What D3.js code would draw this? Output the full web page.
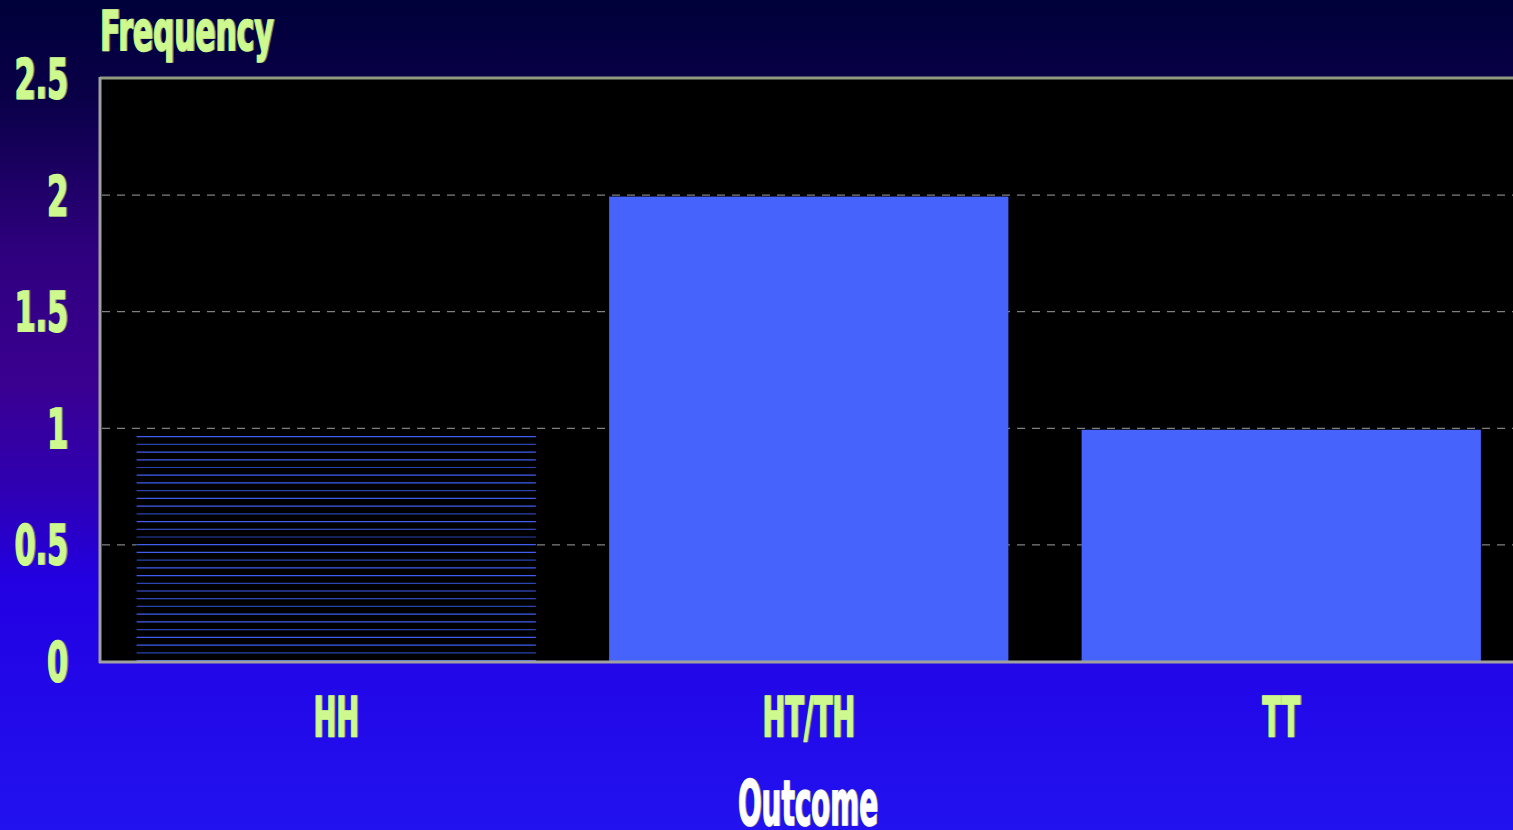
<!DOCTYPE html>
<html>
<head>
<meta charset="utf-8">
<script src="https://cdn.jsdelivr.net/npm/d3@7"></script>
<style>
  html, body { margin: 0; padding: 0; overflow: hidden; }
  svg { display: block; }
</style>
</head>
<body>
<div class="canva"></div>
<script>
// data
const outcomes = ["HH", "HT/TH", "TT"];
const frequency = [1, 2, 1];
const yTicks = [0, 0.5, 1, 1.5, 2, 2.5];
const yLabel = "Frequency";
const xLabel = "Outcome";

const width = 1513, height = 830;
const plot = { left: 100, top: 79, right: 1517.5, bottom: 662 };
const font = "'DejaVu Sans Condensed', 'DejaVu Sans', sans-serif";
const green = "#cdf98e";

const svg = d3.select(".canva").append("svg")
  .attr("width", width)
  .attr("height", height);

const defs = svg.append("defs");
const grad = defs.append("linearGradient")
  .attr("id", "bg").attr("x1", 0).attr("y1", 0).attr("x2", 0).attr("y2", 1);
[[0, "#00003a"], [0.12, "#0a0048"], [0.3, "#2e007e"], [0.46, "#3a0090"],
 [0.6, "#2e00b6"], [0.7, "#2200e2"], [1, "#2212f0"]]
  .forEach(s => grad.append("stop").attr("offset", s[0]).attr("stop-color", s[1]));

svg.append("rect").attr("width", width).attr("height", height).attr("fill", "url(#bg)");

const x = d3.scaleBand()
  .domain(outcomes)
  .range([plot.left, plot.right])
  .paddingInner(0.155)
  .paddingOuter(0.0775);

const y = d3.scaleLinear()
  .domain([0, 2.5])
  .range([plot.bottom, plot.top]);

// plot background
svg.append("rect")
  .attr("x", plot.left).attr("y", plot.top)
  .attr("width", width - plot.left).attr("height", plot.bottom - plot.top)
  .attr("fill", "#000");

// grid
svg.append("g").selectAll("line")
  .data(yTicks.filter(d => d > 0 && d < 2.5))
  .join("line")
  .attr("x1", plot.left + 2).attr("x2", width)
  .attr("y1", d => y(d) - 0.5).attr("y2", d => y(d) - 0.5)
  .attr("stroke", "#a0a0a0")
  .attr("stroke-width", 1)
  .attr("stroke-dasharray", "8,7");

// bars
const bars = svg.append("g").selectAll("g")
  .data(outcomes.map((o, i) => ({ o, v: frequency[i], i })))
  .join("g");

bars.append("rect")
  .attr("x", d => x(d.o))
  .attr("y", d => y(d.v) + 1)
  .attr("width", x.bandwidth())
  .attr("height", d => y(0) - y(d.v) - 1)
  .attr("fill", d => d.i === 0 ? "#000" : "#4664fc");

// hatched first bar: horizontal lines
const hh = bars.filter(d => d.i === 0);
hh.each(function (d) {
  const top = y(d.v) + 7;
  const n = Math.floor((y(0) - top) / 7.72);
  d3.select(this).selectAll("line")
    .data(d3.range(n + 1).map(k => y(0) - 1.5 - k * 7.72))
    .join("line")
    .attr("x1", x(d.o)).attr("x2", x(d.o) + x.bandwidth())
    .attr("y1", v => v).attr("y2", v => v)
    .attr("stroke", (v, k) => k % 3 === 1 ? "#2a44b0" : "#3f5ef0")
    .attr("stroke-width", 1.2);
});

// axes lines
svg.append("line")
  .attr("x1", plot.left).attr("x2", width)
  .attr("y1", plot.top - 1).attr("y2", plot.top - 1)
  .attr("stroke", "#909a80").attr("stroke-width", 3);
svg.append("line")
  .attr("x1", plot.left).attr("x2", plot.left)
  .attr("y1", plot.top - 2).attr("y2", plot.bottom + 1)
  .attr("stroke", "#a0a0a0").attr("stroke-width", 3);
svg.append("line")
  .attr("x1", plot.left - 1).attr("x2", width)
  .attr("y1", plot.bottom).attr("y2", plot.bottom)
  .attr("stroke", "#a0a0a0").attr("stroke-width", 3);

function label(g, txt, cx, baseline, size, sx, color, anchor) {
  const t = g.append("g").attr("transform", `translate(${cx},${baseline}) scale(${sx},1)`);
  t.append("text")
    .attr("x", 2).attr("y", 0)
    .attr("text-anchor", anchor)
    .attr("font-family", font).attr("font-weight", "bold")
    .attr("font-size", size).attr("fill", "#6a7a70")
    .attr("stroke", "#6a7a70").attr("stroke-width", 1.6)
    .text(txt);
  t.append("text")
    .attr("text-anchor", anchor)
    .attr("font-family", font).attr("font-weight", "bold")
    .attr("font-size", size).attr("fill", color)
    .attr("stroke", color).attr("stroke-width", 1.6)
    .text(txt);
}

// y tick labels
const yg = svg.append("g");
yTicks.forEach(t => label(yg, String(t), 68, y(t) + 19, 56, 0.6, green, "end"));

// x tick labels
const xg = svg.append("g");
outcomes.forEach(o => label(xg, o, x(o) + x.bandwidth() / 2, 736, 56, 0.54, green, "middle"));

// titles
label(svg, yLabel, 100, 50, 55, 0.6, green, "start");
label(svg, xLabel, 808, 825, 63, 0.49, "#ffffff", "middle");
</script>
</body>
</html>
